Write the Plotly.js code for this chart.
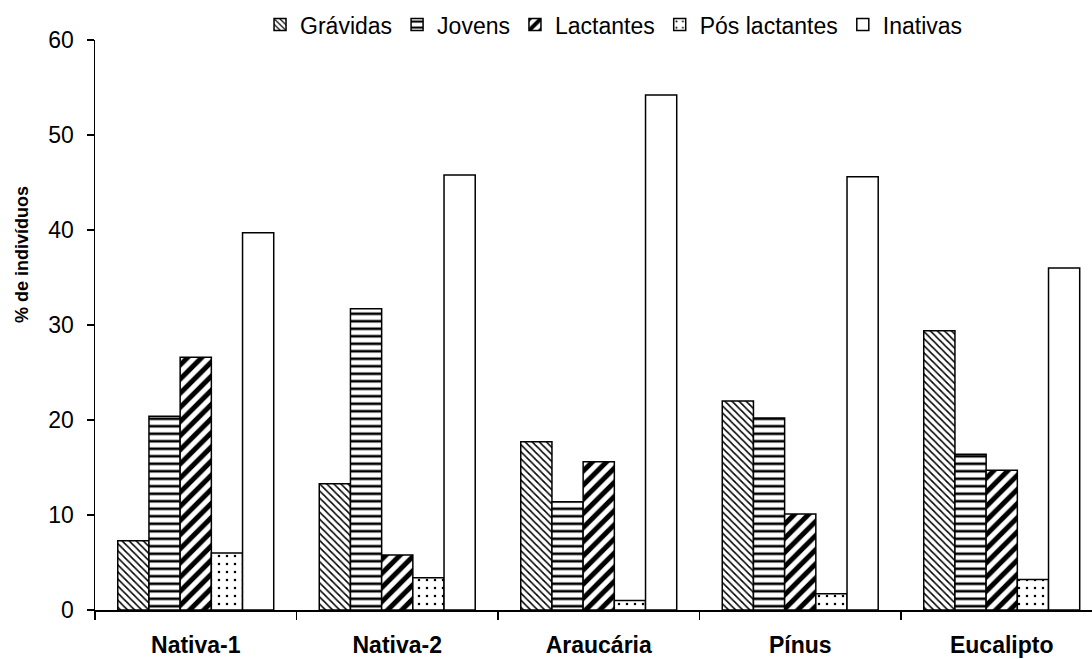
<!DOCTYPE html>
<html>
<head>
<meta charset="utf-8">
<script src="https://cdn.plot.ly/plotly-3.0.1.min.js"></script>
<style>html,body{margin:0;padding:0;background:#fff}#chart{width:1092px;height:659px}</style>
</head>
<body>
<div id="chart"></div>
<script>
const categories = ["Nativa-1", "Nativa-2", "Araucária", "Pínus", "Eucalipto"];
const seriesNames = ["Grávidas", "Jovens", "Lactantes", "Pós lactantes", "Inativas"];
const gravidas = [7.3, 13.3, 17.7, 22.0, 29.4];
const jovens = [20.4, 31.7, 11.4, 20.2, 16.4];
const lactantes = [26.6, 5.8, 15.6, 10.1, 14.7];
const posLactantes = [6.0, 3.4, 1.0, 1.7, 3.2];
const inativas = [39.7, 45.8, 54.2, 45.6, 36.0];
const yTicks = [0, 10, 20, 30, 40, 50, 60];

const values = [gravidas, jovens, lactantes, posLactantes, inativas];
const patterns = [
  {shape: "\\", size: 5, solidity: 0.3, fgcolor: "#000", bgcolor: "#fff"},
  {shape: "-", size: 7.5, solidity: 0.35, fgcolor: "#000", bgcolor: "#fff"},
  {shape: "/", size: 10, solidity: 0.5, fgcolor: "#000", bgcolor: "#fff"},
  {shape: ".", size: 8, solidity: 0.08, fgcolor: "#000", bgcolor: "#fff"},
  {shape: "", fgcolor: "#000", bgcolor: "#fff"}
];

const traces = seriesNames.map((name, i) => ({
  type: "bar",
  name: name,
  x: categories,
  y: values[i],
  marker: {
    color: "#fff",
    line: {color: "#000", width: 1.5},
    pattern: patterns[i]
  },
  hoverinfo: "x+y+name"
}));

const layout = {
  width: 1092,
  height: 659,
  margin: {l: 95, r: 0, t: 40, b: 49, autoexpand: false},
  paper_bgcolor: "#fff",
  plot_bgcolor: "#fff",
  font: {family: "Liberation Sans, Arial, sans-serif", color: "#000", size: 22},
  barmode: "group",
  bargap: 0.226,
  bargroupgap: 0,
  showlegend: true,
  legend: {
    orientation: "h",
    x: 0.5206, xanchor: "center",
    y: 1.027, yanchor: "middle",
    font: {size: 23},
    itemwidth: 30,
    tracegroupgap: 0,
    bgcolor: "rgba(0,0,0,0)"
  },
  xaxis: {
    type: "category",
    range: [-0.5, 4.448],
    automargin: false,
    showline: true, linecolor: "#000", linewidth: 1.5,
    ticks: "outside", tickson: "boundaries", ticklen: 8, tickcolor: "#000", tickwidth: 1.5,
    ticklabelstandoff: 14,
    tickfont: {size: 23, family: "Liberation Sans, Arial, sans-serif"},
    showgrid: false, zeroline: false
  },
  yaxis: {
    range: [0, 60],
    automargin: false,
    tickvals: yTicks,
    ticktext: yTicks.map(String),
    showline: true, linecolor: "#000", linewidth: 1.5,
    ticks: "outside", ticklen: 7, tickcolor: "#000", tickwidth: 1.5,
    ticklabelstandoff: 8,
    tickfont: {size: 23},
    showgrid: false, zeroline: false
  },
  annotations: [{
    text: "<b>% de indivíduos</b>",
    textangle: -90,
    xref: "paper", yref: "paper",
    x: -0.073, y: 0.623,
    xanchor: "center", yanchor: "middle",
    showarrow: false,
    font: {size: 18}
  }]
};

layout.xaxis.tickvals = categories;
layout.xaxis.ticktext = categories.map(c => "<b>" + c + "</b>");

Plotly.newPlot("chart", traces, layout, {displayModeBar: false, staticPlot: true});
</script>
</body>
</html>
